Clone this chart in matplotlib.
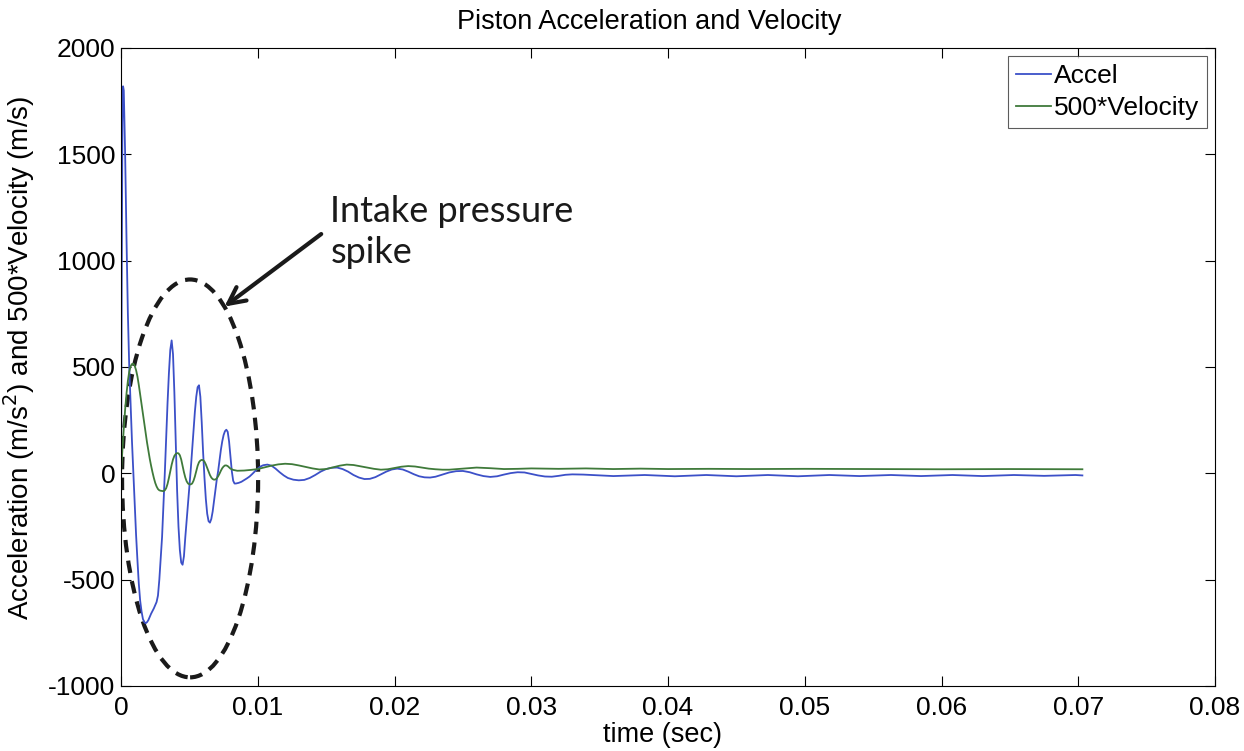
import matplotlib
matplotlib.use("Agg")
import matplotlib.pyplot as plt
from matplotlib.patches import Ellipse

# ---- data ----
t_accel = [0.0, 0.00005, 0.0001, 0.00015, 0.0002, 0.0003, 0.0004, 0.0005, 0.0006, 0.0007,
           0.0008, 0.0009, 0.001, 0.0011, 0.0012, 0.0013, 0.0014, 0.0015, 0.0016, 0.0017,
           0.0018, 0.0019, 0.002, 0.0021, 0.0022, 0.0023, 0.0024, 0.0025, 0.0026, 0.0027,
           0.0028, 0.0029, 0.003, 0.0031, 0.0032, 0.0033, 0.0034, 0.0035, 0.0036, 0.0037,
           0.0038, 0.0039, 0.004, 0.0041, 0.0042, 0.0043, 0.0044, 0.0045, 0.0046, 0.0047,
           0.0048, 0.0049, 0.005, 0.0051, 0.0052, 0.0053, 0.0054, 0.0055, 0.0056, 0.0057,
           0.0058, 0.0059, 0.006, 0.0061, 0.0062, 0.0063, 0.0064, 0.0065, 0.0066, 0.0067,
           0.0068, 0.0069, 0.007, 0.0071, 0.0072, 0.0073, 0.0074, 0.0075, 0.0076, 0.0077,
           0.0078, 0.0079, 0.008, 0.0081, 0.0082, 0.0083, 0.0084, 0.0086, 0.0088, 0.009,
           0.0092, 0.0094, 0.0096, 0.0098, 0.01, 0.0102, 0.0104, 0.0107, 0.011, 0.0113,
           0.0116, 0.0119, 0.0122, 0.0126, 0.013, 0.0134, 0.0138, 0.0142, 0.0146, 0.015,
           0.0154, 0.0158, 0.0162, 0.0166, 0.017, 0.0174, 0.0178, 0.0182, 0.0186, 0.019,
           0.0194, 0.0198, 0.0202, 0.0206, 0.021, 0.0214, 0.0218, 0.0222, 0.0226, 0.023,
           0.0235, 0.024, 0.0245, 0.025, 0.0255, 0.026, 0.0265, 0.027, 0.0275, 0.028,
           0.0285, 0.029, 0.0295, 0.03, 0.0305, 0.031, 0.0315, 0.032, 0.0325, 0.033,
           0.0338, 0.036, 0.0383, 0.0405, 0.0428, 0.045, 0.0473, 0.0495, 0.0518, 0.054,
           0.0563, 0.0585, 0.0608, 0.063, 0.0653, 0.0675, 0.0698, 0.0703]
accel = [0, 900, 1650, 1820, 1800, 1500, 1100, 750, 500, 320,
         150, 0, -150, -290, -410, -520, -600, -650, -685, -700,
         -705, -700, -690, -675, -660, -648, -635, -620, -605, -575,
         -500, -400, -300, -150, 0, 170, 330, 470, 580, 625,
         560, 380, 150, -80, -250, -360, -420, -430, -390, -300,
         -220, -140, -60, 20, 110, 200, 290, 360, 405, 414,
         360, 240, 100, -20, -120, -190, -225, -232, -215, -180,
         -130, -80, -30, 10, 60, 110, 150, 180, 198, 205,
         195, 150, 80, 10, -35, -48, -48, -45, -40, -32,
         -24, -15, -3, 10, 22, 32, 38, 41, 36, 22,
         5, -10, -22, -30, -33, -31, -22, -8, 8, 20,
         26, 27, 20, 8, -8, -20, -27, -26, -18, -5,
         8, 18, 22, 18, 8, -4, -14, -19, -20, -16,
         -6, 4, 10, 11, 5, -5, -13, -17, -14, -6,
         1, 5, 4, -3, -10, -15, -16, -12, -7, -5,
         -6, -13, -8, -14, -8, -14, -8, -14, -8, -13,
         -8, -13, -8, -13, -8, -12, -8, -10]

t_vel = [0.0, 0.0001, 0.0002, 0.0003, 0.0004, 0.0005, 0.0006, 0.0007, 0.0008, 0.0009,
         0.001, 0.0011, 0.0012, 0.0013, 0.0014, 0.0015, 0.0016, 0.0017, 0.0018, 0.0019,
         0.002, 0.0021, 0.0022, 0.0023, 0.0024, 0.0025, 0.0026, 0.0027, 0.0028, 0.0029,
         0.003, 0.0031, 0.0032, 0.0033, 0.0034, 0.0035, 0.0036, 0.0037, 0.0038, 0.0039,
         0.004, 0.0041, 0.0042, 0.0043, 0.0044, 0.0045, 0.0046, 0.0047, 0.0048, 0.0049,
         0.005, 0.0051, 0.0052, 0.0053, 0.0054, 0.0055, 0.0056, 0.0057, 0.0058, 0.0059,
         0.006, 0.0061, 0.0062, 0.0063, 0.0064, 0.0065, 0.0066, 0.0067, 0.0068, 0.0069,
         0.007, 0.0071, 0.0072, 0.0073, 0.0074, 0.0075, 0.0076, 0.0077, 0.0078, 0.0079,
         0.008, 0.0082, 0.0085, 0.009, 0.0095, 0.01, 0.0105, 0.011, 0.0115, 0.012,
         0.0125, 0.013, 0.0135, 0.014, 0.0145, 0.015, 0.0155, 0.016, 0.0165, 0.017,
         0.0175, 0.018, 0.0185, 0.019, 0.0195, 0.02, 0.0205, 0.021, 0.0215, 0.022,
         0.0225, 0.023, 0.0235, 0.024, 0.025, 0.026, 0.027, 0.028, 0.029, 0.03,
         0.032, 0.034, 0.036, 0.038, 0.04, 0.043, 0.046, 0.05, 0.055, 0.06,
         0.065, 0.0703]
vel500 = [0, 110, 210, 300, 375, 435, 478, 503, 514, 515,
          505, 485, 455, 415, 370, 325, 278, 232, 188, 145,
          105, 68, 35, 5, -22, -45, -62, -74, -80, -82,
          -83, -84, -80, -70, -50, -22, 10, 40, 65, 82,
          91, 95, 94, 85, 65, 35, 5, -20, -38, -48,
          -52, -52, -48, -35, -15, 10, 35, 52, 60, 63,
          62, 55, 42, 25, 8, -8, -20, -27, -30, -29,
          -24, -14, -2, 12, 24, 32, 37, 37, 34, 28,
          22, 16, 12, 13, 16, 20, 28, 36, 42, 45,
          43, 37, 30, 23, 18, 20, 28, 36, 41, 39,
          33, 27, 21, 17, 19, 25, 31, 34, 32, 27,
          22, 19, 17, 17, 22, 27, 24, 20, 21, 23,
          21, 23, 20, 22, 20, 21, 20, 21, 20, 19,
          20, 19]

x_ticks = [0, 0.01, 0.02, 0.03, 0.04, 0.05, 0.06, 0.07, 0.08]
x_tick_labels = ["0", "0.01", "0.02", "0.03", "0.04", "0.05", "0.06", "0.07", "0.08"]
y_ticks = [-1000, -500, 0, 500, 1000, 1500, 2000]
y_tick_labels = ["-1000", "-500", "0", "500", "1000", "1500", "2000"]

plt.rcParams['font.family'] = ['Liberation Sans', 'DejaVu Sans']
plt.rcParams['axes.unicode_minus'] = False

fig = plt.figure(figsize=(12.44, 7.51), dpi=100)
ax = fig.add_axes([0.0973, 0.0866, 0.8794, 0.8495])

ax.plot(t_accel, accel, color='#3c50c8', lw=1.3, label='Accel')
ax.plot(t_vel, vel500, color='#3f7a3a', lw=1.3, label='500*Velocity')

ax.set_xlim(0, 0.08)
ax.set_ylim(-1000, 2000)
ax.set_xticks(x_ticks)
ax.set_xticklabels(x_tick_labels)
ax.set_yticks(y_ticks)
ax.set_yticklabels(y_tick_labels)
ax.tick_params(direction='in', top=True, right=True, labelsize=19, length=7, width=0.8)
ax.tick_params(axis='x', pad=7)
ax.tick_params(axis='y', pad=4)
for s in ax.spines.values():
    s.set_linewidth(0.8)

ax.set_title('Piston Acceleration and Velocity', fontsize=19.5, pad=14, x=0.483)
ax.set_xlabel('time (sec)', fontsize=19.5)
ax.xaxis.set_label_coords(0.4945, -0.056)
ax.set_ylabel('Acceleration (m/s$^2$) and 500*Velocity (m/s)', fontsize=20)
ax.yaxis.set_label_coords(-0.0768, 0.515)

leg = ax.legend(loc='upper right', fontsize=19, frameon=True, fancybox=False,
                handlelength=1.35, handletextpad=0.1, borderpad=0.3, labelspacing=0.3,
                borderaxespad=0.3)
leg.get_frame().set_edgecolor('#333333')
leg.get_frame().set_linewidth(0.8)

# annotation: dashed ellipse + arrow + text
ell = Ellipse((0.00505, -24), 0.00995, 1871, fill=False, ls=(0, (3, 2)), lw=3, color='#1a1a1a')
ax.add_patch(ell)
ax.annotate('', xy=(0.0074, 776), xytext=(0.0148, 1133),
            arrowprops=dict(arrowstyle='->', lw=3, color='#1a1a1a', mutation_scale=30))
ax.text(0.0153, 1310, 'Intake pressure\nspike', fontsize=26, family='Lato', va='top',
        ha='left', linespacing=1.3, color='#1a1a1a')

fig.savefig('out.png', dpi=100)
